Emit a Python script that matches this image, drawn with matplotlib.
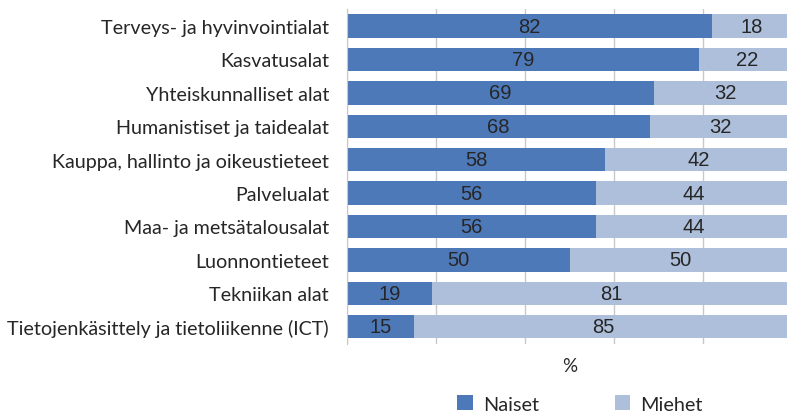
import matplotlib.pyplot as plt
import numpy as np

# Datos del grafico
alat = ['Terveys- ja hyvinvointialat', 'Kasvatusalat', 'Yhteiskunnalliset alat',
        'Humanistiset ja taidealat', 'Kauppa, hallinto ja oikeustieteet', 'Palvelualat',
        'Maa- ja metsätalousalat', 'Luonnontieteet', 'Tekniikan alat',
        'Tietojenkäsittely ja tietoliikenne (ICT)']
naiset = [82, 79, 69, 68, 58, 56, 56, 50, 19, 15]
miehet = [18, 22, 32, 32, 42, 44, 44, 50, 81, 85]

c_naiset = '#4E79B8'
c_miehet = '#AEBFDB'
c_teksti = '#262626'

fig = plt.figure(figsize=(7.87, 4.14), dpi=100)
ax = fig.add_axes([347 / 787, 69 / 414, 445 / 787, 335 / 414])

y = np.arange(len(alat))
h = 0.7
b1 = ax.barh(y, naiset, height=h, color=c_naiset, zorder=2)
b2 = ax.barh(y, miehet, left=naiset, height=h, color=c_miehet, zorder=2)

for i in range(len(alat)):
    ax.text(naiset[i] / 2, y[i], str(naiset[i]), ha='center', va='center',
            fontsize=14.5, color=c_teksti, family='Liberation Sans', zorder=3)
    ax.text(naiset[i] + miehet[i] / 2, y[i], str(miehet[i]), ha='center', va='center',
            fontsize=14.5, color=c_teksti, family='Liberation Sans', zorder=3)

ax.set_xlim(0, 100)
ax.set_ylim(len(alat) - 0.5 + 0.02, -0.51)
ax.set_yticks(y)
ax.set_yticklabels(alat, fontsize=14.2, color=c_teksti, family='Lato')
ax.tick_params(axis='y', length=0, pad=13)
ax.set_xticks([0, 20, 40, 60, 80, 100])
ax.set_xticklabels([])
ax.tick_params(axis='x', length=0)
ax.grid(axis='x', color='#C8C8C8', linewidth=1, zorder=0)
for s in ['top', 'right', 'bottom']:
    ax.spines[s].set_visible(False)
ax.spines['left'].set_color('#C8C8C8')
ax.set_xlabel('%', fontsize=13.5, color=c_teksti, family='Lato', labelpad=6)

fig.legend([b1, b2], ['Naiset', 'Miehet'], loc='center', bbox_to_anchor=(580 / 787, 9 / 414),
           ncol=2, frameon=False, handlelength=0.8, handleheight=0.8,
           columnspacing=3.8, handletextpad=0.5, prop={'family': 'Lato', 'size': 14.3})
for t in fig.legends[0].get_texts():
    t.set_color(c_teksti)

fig.savefig('out.png', dpi=100)
